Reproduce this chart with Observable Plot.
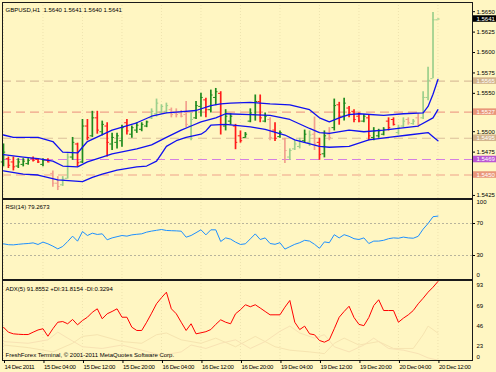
<!DOCTYPE html>
<html><head><meta charset="utf-8">
<script src="https://cdn.jsdelivr.net/npm/d3@7"></script>
<script src="https://cdn.jsdelivr.net/npm/@observablehq/plot@0.6"></script>
<style>
body{margin:0;background:#FFF6C2;}
#chart{position:relative;width:496px;height:372px;background:#FFF6C2;overflow:hidden;}
#chart svg{position:absolute;left:0;}
#chart g[aria-label="x-axis tick label"]{letter-spacing:-0.35px;}
</style></head><body><div id="chart"></div>
<script>
// ---- data ----
const symbol = "GBPUSD,H1";
const timeLabels = ["14 Dec 2011","15 Dec 04:00","15 Dec 12:00","15 Dec 20:00","16 Dec 04:00","16 Dec 12:00","16 Dec 20:00","19 Dec 04:00","19 Dec 12:00","19 Dec 20:00","20 Dec 04:00","20 Dec 12:00"];
const timeTickIdx = [0,8,16,24,32,40,48,56,64,72,80,88];

const opens = [1.5466,1.5470,1.5466,1.5461,1.5463,1.5464,1.5470,1.5469,1.5463,1.5468,
1.5452,1.5440,1.5438,1.5446,1.5472,1.5488,1.5466,1.5510,1.5498,1.5520,
1.5503,1.5510,1.5488,1.5490,1.5492,1.5514,1.5500,1.5505,1.5506,1.5510,
1.5520,1.5525,1.5527,1.5528,1.5530,1.5526,1.5526,1.5524,1.5510,1.5520,
1.5534,1.5542,1.5530,1.5545,1.5550,1.5510,1.5516,1.5510,1.5498,1.5496,
1.5516,1.5524,1.5540,1.5516,1.5518,1.5505,1.5497,1.5494,1.5472,1.5482,
1.5485,1.5492,1.5490,1.5500,1.5490,1.5476,1.5500,1.5508,1.5536,1.5522,
1.5532,1.5528,1.5522,1.5516,1.5520,1.5496,1.5498,1.5500,1.5516,1.5518,
1.5502,1.5510,1.5518,1.5513,1.5520,1.5520,1.5545,1.5568,1.5640];
const highs = [1.5488,1.5472,1.5472,1.5470,1.5470,1.5470,1.5472,1.5470,1.5470,1.5470,
1.5455,1.5448,1.5448,1.5476,1.5496,1.5489,1.5518,1.5518,1.5528,1.5528,
1.5516,1.5514,1.5501,1.5501,1.5511,1.5518,1.5510,1.5514,1.5514,1.5516,
1.5531,1.5543,1.5536,1.5538,1.5532,1.5531,1.5529,1.5540,1.5526,1.5540,
1.5550,1.5544,1.5554,1.5556,1.5552,1.5530,1.5525,1.5512,1.5504,1.5502,
1.5531,1.5548,1.5548,1.5526,1.5520,1.5514,1.5504,1.5495,1.5482,1.5492,
1.5495,1.5505,1.5504,1.5521,1.5495,1.5504,1.5508,1.5543,1.5539,1.5544,
1.5534,1.5530,1.5526,1.5524,1.5524,1.5508,1.5506,1.5508,1.5520,1.5520,
1.5511,1.5520,1.5520,1.5518,1.5525,1.5552,1.5582,1.5649,1.5641];
const lows = [1.5460,1.5458,1.5455,1.5458,1.5460,1.5462,1.5466,1.5464,1.5460,1.5465,
1.5435,1.5431,1.5436,1.5445,1.5468,1.5460,1.5464,1.5492,1.5496,1.5500,
1.5498,1.5472,1.5480,1.5482,1.5484,1.5499,1.5495,1.5501,1.5503,1.5508,
1.5518,1.5521,1.5524,1.5525,1.5520,1.5520,1.5520,1.5508,1.5492,1.5518,
1.5521,1.5520,1.5526,1.5535,1.5499,1.5504,1.5511,1.5481,1.5489,1.5495,
1.5514,1.5516,1.5514,1.5514,1.5492,1.5491,1.5495,1.5464,1.5468,1.5480,
1.5482,1.5489,1.5485,1.5480,1.5468,1.5471,1.5492,1.5504,1.5511,1.5516,
1.5520,1.5514,1.5514,1.5514,1.5492,1.5492,1.5495,1.5498,1.5504,1.5510,
1.5499,1.5508,1.5511,1.5511,1.5508,1.5518,1.5541,1.5568,1.5640];
const closes = [1.5478,1.5462,1.5460,1.5466,1.5467,1.5468,1.5468,1.5466,1.5468,1.5466,
1.5440,1.5436,1.5445,1.5472,1.5490,1.5465,1.5510,1.5496,1.5520,1.5505,
1.5512,1.5490,1.5496,1.5498,1.5508,1.5504,1.5508,1.5511,1.5512,1.5515,
1.5528,1.5538,1.5534,1.5535,1.5524,1.5524,1.5522,1.5512,1.5518,1.5535,
1.5545,1.5530,1.5548,1.5552,1.5512,1.5522,1.5522,1.5490,1.5492,1.5500,
1.5526,1.5540,1.5520,1.5522,1.5496,1.5495,1.5502,1.5480,1.5480,1.5488,
1.5492,1.5500,1.5499,1.5488,1.5475,1.5498,1.5496,1.5535,1.5522,1.5538,
1.5526,1.5518,1.5516,1.5522,1.5498,1.5504,1.5504,1.5506,1.5508,1.5512,
1.5508,1.5516,1.5514,1.5516,1.5512,1.5545,1.5566,1.5640,1.5641];
const paleBars = [10,11,12,13,30,31,32,33,34,35,36,37,38,54,57,58,59,60,62,63,66,80,81,82,83,84,85,86,87,88];

const upperIdx = [0,2,7,10,12,15,17,22,27,30,33,35,39,42,44,46,50,54,58,62,64,66,68,70,72,77,81,85,86,87,88];
const upperVal = [1.5499,1.5496,1.5496,1.5491,1.5478,1.5477,1.5491,1.5505,1.5514,1.5522,1.5526,1.5527,1.5529,1.5535,1.5537,1.5538,1.5539,1.5537,1.5536,1.5530,1.5520,1.5515,1.5520,1.5524,1.5525,1.5523,1.5525,1.5526,1.5534,1.5549,1.5567];
const middleIdx = [0,4,7,10,12,15,17,20,22,27,30,33,36,38,40,43,45,50,54,58,62,64,66,70,73,77,80,84,87,88];
const middleVal = [1.5475,1.5472,1.5470,1.5467,1.5461,1.5460,1.5466,1.5472,1.5476,1.5482,1.5487,1.5496,1.5505,1.5510,1.5515,1.5520,1.5525,1.5524,1.5523,1.5518,1.5507,1.5502,1.5501,1.5505,1.5503,1.5505,1.5507,1.5510,1.5520,1.5530];
const lowerIdx = [0,4,7,11,16,18,20,23,27,29,31,32,33,35,37,40,41,42,45,50,53,57,59,64,66,70,74,78,82,86,87,88];
const lowerVal = [1.5455,1.5451,1.5450,1.5444,1.5442,1.5447,1.5451,1.5456,1.5460,1.5461,1.5467,1.5476,1.5485,1.5492,1.5496,1.5500,1.5504,1.5511,1.5512,1.5509,1.5506,1.5499,1.5493,1.5485,1.5484,1.5485,1.5493,1.5496,1.5499,1.5502,1.5497,1.5492];

const levelPrices = [1.5565, 1.5527, 1.5495, 1.5469, 1.5450];
const levelColors = ["#D2B48C", "#E9967A", "#D2B48C", "#BA55D3", "#E9967A"];
const levelLineColors = ["#DCC09A", "#EFA28A", "#DCC09A", "#D57FE2", "#EFA28A"];
const priceTicks = [1.5425,1.5550,1.5575,1.5600,1.5625,1.5650];
const priceTicksNearBoxes = [1.5475,1.5500];

const rsiValues = [44.6,43.5,43.3,44.0,44.6,45.0,45.8,43.8,46.7,44.6,
41.7,38.3,41.3,47.5,54.2,47.9,60.0,55.0,57.9,56.3,
57.1,49.6,52.0,53.5,55.0,54.2,55.8,56.5,57.1,59.2,
60.5,61.5,62.5,61.3,61.0,60.8,60.4,52.9,55.0,58.5,
62.1,55.8,62.1,62.1,47.5,52.0,50.5,46.7,43.8,44.6,
50.8,57,50,52,45,44,46,38,41,44,
46,49,48,44,39,47,46,56,52,56,
54,51,50,52,45,48,48,49,51,52,
51.6,53,52,51.6,54,63,70,78.5,79.2673];
const rsiLevels = [70, 30];

const adxValues = [38.7,32.9,31.0,30.5,30.2,30.2,32.9,35.5,36.9,28.2,
36.9,44.5,45.3,42.7,47.7,41.5,46.5,50.3,56.1,60.1,
48.5,54.3,57.0,60.1,50.3,50.3,38.7,34.9,34.9,44.5,
55,66,73,79.4,60.1,54.3,44.5,34.9,42.7,31.0,
32.2,33.5,36,42,47.3,44.5,42.7,54.3,59,64.8,
62.5,64.8,61,57,53.1,53.1,53.1,62.0,69.8,44.5,
36.0,39.9,31.0,29.9,23.3,21.3,24.1,36.9,50.3,57,
63.1,50,42,40.5,50,63.9,70.6,58.1,58.1,58.1,
44.5,49.2,53.1,58.1,65.9,72.4,79.4,85.2,91.8552];
const plusDIIdx = [0,5,10,14,16,19,24,28,31,33,36,40,43,47,51,55,58,62,65,67,69,72,76,79,83,85,86,87,88];
const plusDIVal = [18,15,10,20,28,30,22,20,30,32,24,20,26,16,28,16,12,10,8,20,26,18,22,14,14,30,40,36,31.8154];
const minusDIIdx = [0,5,9,11,13,16,20,24,28,32,36,38,41,44,47,50,53,56,58,60,63,65,67,70,73,75,78,81,84,86,88];
const minusDIVal = [22,20,24,33,26,16,14,18,12,6,10,18,14,20,24,14,22,34,40,32,26,30,16,10,18,26,14,12,8,3,0.3294];

const captionText = "FreshForex Terminal, © 2001-2011 MetaQuotes Software Corp.";

// ---- build ----
const FONT = '"Liberation Sans",Arial,sans-serif';
const FS = 6;
const W = 496;
const xDomain = [-0.2, 95];
const fmt4 = d3.format(".4f");
const labelOf = new Map(timeTickIdx.map((t, k) => [t, timeLabels[k]]));

const bars = opens.map((o, i) => ({i, o, h: highs[i], l: lows[i], c: closes[i], up: closes[i] >= o, pale: paleBars.includes(i)}));
const barColor = b => b.pale ? (b.up ? "#9CCF8C" : "#F2A08E") : (b.up ? "#1E8A1E" : "#FF1A1A");
const band = (idx, val) => idx.map((i, k) => ({i, v: val[k]}));
const levels = levelPrices.map((p, k) => ({p, color: levelColors[k], line: levelLineColors[k]}));
const last = bars[bars.length - 1];
const boxes = [...levels, {p: last.c, color: "#000000"}];
const rsi = rsiValues.map((v, i) => ({i, v}));
const adx = adxValues.map((v, i) => ({i, v}));
const plusDI = band(plusDIIdx, plusDIVal);
const minusDI = band(minusDIIdx, minusDIVal);

const common = {
  width: W, marginLeft: 2, marginRight: 24,
  color: {type: "identity"},
  style: {fontFamily: FONT, fontSize: FS + "px", background: "transparent", color: "#000", overflow: "visible"}
};
const grid = () => Plot.gridX(timeTickIdx, {stroke: "#D9CD98", strokeOpacity: 0.45, strokeDasharray: "1,2"});
const frame = () => Plot.frame({stroke: "#1a1a1a", strokeWidth: 1});
const yAxis = (o) => Plot.axisY({anchor: "right", label: null, fontSize: FS, ...o});

// main price panel
const boxX1 = xDomain[1] + 0.2, boxX2 = xDomain[1] + 5;
const main = Plot.plot({
  ...common, height: 199, marginTop: 2, marginBottom: 1,
  x: {domain: xDomain, axis: null},
  y: {domain: [1.542125, 1.566125], label: null},
  marks: [
    grid(),
    Plot.ruleY(levels, {y: "p", stroke: d => d.line, strokeDasharray: "9,5", strokeWidth: 1.2}),
    Plot.ruleX(bars, {x: "i", y1: "l", y2: "h", stroke: barColor, strokeWidth: 1.7}),
    Plot.ruleY(bars, {y: "o", x1: d => d.i - 0.45, x2: "i", stroke: barColor, strokeWidth: 1}),
    Plot.ruleY(bars, {y: "c", x1: "i", x2: d => d.i + 0.45, stroke: barColor, strokeWidth: 1}),
    Plot.line(band(upperIdx, upperVal), {x: "i", y: "v", stroke: "#1010F0", strokeWidth: 1.3}),
    Plot.line(band(middleIdx, middleVal), {x: "i", y: "v", stroke: "#1010F0", strokeWidth: 1.3}),
    Plot.line(band(lowerIdx, lowerVal), {x: "i", y: "v", stroke: "#1010F0", strokeWidth: 1.3}),
    frame(),
    yAxis({ticks: priceTicks, tickFormat: fmt4, tickSize: 2, tickPadding: 2}),
    yAxis({ticks: priceTicksNearBoxes, tickFormat: fmt4, tickSize: 2, tickPadding: 2, dy: -2.5}),
    Plot.rect(boxes, {x1: () => boxX1, x2: () => boxX2, y1: d => d.p - 0.0004, y2: d => d.p + 0.0004, fill: "color"}),
    Plot.text(boxes, {x: () => boxX1, y: "p", text: d => fmt4(d.p), fill: "white", textAnchor: "start", dx: 3, fontSize: FS}),
    Plot.text([`${symbol}  ${fmt4(last.o)} ${fmt4(last.h)} ${fmt4(last.l)} ${fmt4(last.c)}`], {frameAnchor: "top-left", dx: 3, dy: 5, textAnchor: "start", fontSize: FS})
  ]
});
main.style.top = "0px";

// RSI panel
const rsiPlot = Plot.plot({
  ...common, height: 82, marginTop: 1, marginBottom: 1,
  x: {domain: xDomain, axis: null},
  y: {domain: [0, 100], label: null},
  marks: [
    grid(),
    Plot.ruleY(rsiLevels, {stroke: "#B8B49C", strokeDasharray: "2,2"}),
    Plot.line(rsi, {x: "i", y: "v", stroke: "#1E90FF", strokeWidth: 1}),
    frame(),
    yAxis({ticks: rsiLevels, tickSize: 2, tickPadding: 2}),
    yAxis({ticks: [100], tickSize: 0, tickPadding: 4, dy: 3}),
    yAxis({ticks: [0], tickSize: 0, tickPadding: 4, dy: -4}),
    Plot.text([`RSI(14) ${rsiValues[rsiValues.length - 1].toFixed(4)}`], {frameAnchor: "top-left", dx: 3, dy: 5, textAnchor: "start", fontSize: FS})
  ]
});
rsiPlot.style.top = "198px";

// ADX panel
const adxPlot = Plot.plot({
  ...common, height: 93, marginTop: 1, marginBottom: 12,
  x: {domain: xDomain, label: null},
  y: {domain: [0, 93], label: null},
  marks: [
    grid(),
    Plot.line(plusDI, {x: "i", y: "v", stroke: "#F6E4B0", strokeWidth: 1}),
    Plot.line(minusDI, {x: "i", y: "v", stroke: "#F8E2B4", strokeWidth: 1}),
    Plot.line(adx, {x: "i", y: "v", stroke: "#FF0000", strokeWidth: 1}),
    frame(),
    yAxis({ticks: [93, 69, 46, 23], tickSize: 0, tickPadding: 4, dy: 5}),
    yAxis({ticks: [0], tickSize: 0, tickPadding: 4, dy: -3}),
    Plot.axisX({anchor: "bottom", label: null, ticks: timeTickIdx, tickFormat: d => labelOf.get(d), tickSize: 3, tickPadding: 1, textAnchor: "start", dx: 1, fontSize: FS}),
    Plot.text([`ADX(5) ${adxValues[adxValues.length - 1].toFixed(4)} +DI:${plusDIVal[plusDIVal.length - 1].toFixed(4)} -DI:${minusDIVal[minusDIVal.length - 1].toFixed(4)}`], {frameAnchor: "top-left", dx: 3, dy: 6, textAnchor: "start", fontSize: FS}),
    Plot.text([captionText], {frameAnchor: "bottom-left", dx: 3, dy: -4, textAnchor: "start", fontSize: FS})
  ]
});
adxPlot.style.top = "279px";

const root = document.getElementById("chart");
root.append(main, rsiPlot, adxPlot);
</script></body></html>
